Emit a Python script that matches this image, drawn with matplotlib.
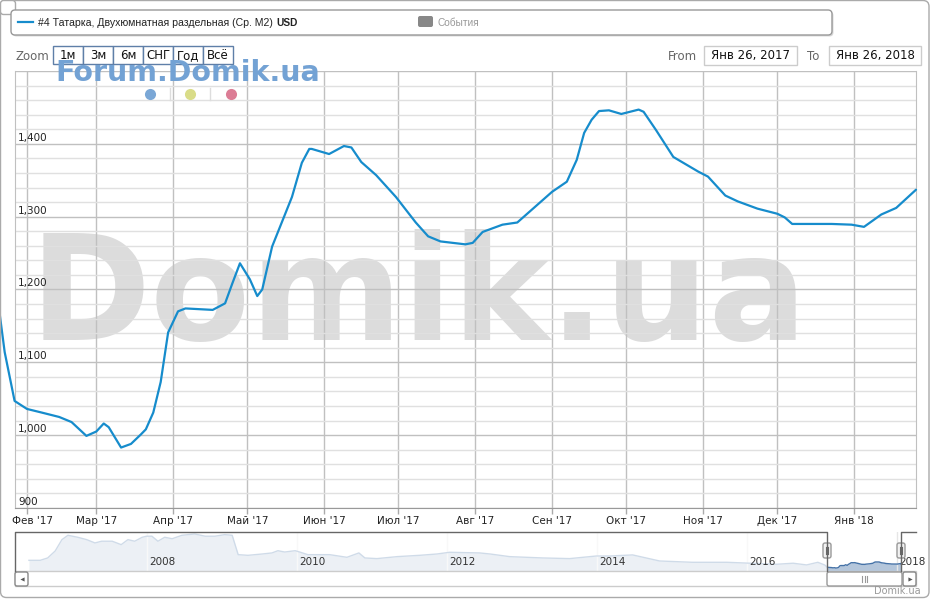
import numpy as np
import matplotlib
matplotlib.use('Agg')
import matplotlib.pyplot as plt
import matplotlib.dates as mdates
import matplotlib.transforms as mtransforms
from matplotlib.patches import FancyBboxPatch, Rectangle

# Main series: average price per m2, USD
dates = ['2017-01-21', '2017-01-23', '2017-01-27', '2017-02-01', '2017-02-07', '2017-02-14',
         '2017-02-19', '2017-02-25', '2017-03-01', '2017-03-04', '2017-03-06', '2017-03-11',
         '2017-03-15', '2017-03-19', '2017-03-21', '2017-03-24', '2017-03-27', '2017-03-30',
         '2017-04-03', '2017-04-06', '2017-04-17', '2017-04-22', '2017-04-25', '2017-04-28',
         '2017-05-02', '2017-05-05', '2017-05-07', '2017-05-11', '2017-05-19', '2017-05-23',
         '2017-05-26', '2017-05-27', '2017-06-03', '2017-06-09', '2017-06-12', '2017-06-16',
         '2017-06-22', '2017-06-30', '2017-07-08', '2017-07-13', '2017-07-18', '2017-07-28',
         '2017-07-31', '2017-08-04', '2017-08-12', '2017-08-18', '2017-08-23', '2017-09-01',
         '2017-09-07', '2017-09-11', '2017-09-14', '2017-09-17', '2017-09-20', '2017-09-24',
         '2017-09-29', '2017-10-06', '2017-10-08', '2017-10-13', '2017-10-20', '2017-10-30',
         '2017-11-03', '2017-11-10', '2017-11-15', '2017-11-23', '2017-12-01', '2017-12-04',
         '2017-12-07', '2017-12-23', '2017-12-31', '2018-01-05', '2018-01-12', '2018-01-18',
         '2018-01-26']
prices = [1166, 1114, 1047, 1036, 1031, 1025, 1018, 999, 1005, 1016, 1011, 983,
          988, 1001, 1008, 1031, 1073, 1141, 1170, 1174, 1172, 1181, 1209, 1236,
          1214, 1191, 1200, 1259, 1327, 1374, 1393, 1393, 1386, 1397, 1395, 1375,
          1357, 1327, 1292, 1273, 1266, 1262, 1264, 1279, 1289, 1292, 1307, 1334,
          1348, 1378, 1415, 1433, 1445, 1446, 1441, 1447, 1444, 1419, 1382, 1362,
          1355, 1329, 1321, 1311, 1304, 1299, 1290, 1290, 1289, 1286, 1303, 1312,
          1337]

# Navigator history before 2017 (decimal years)
nav_years = [2006.43, 2006.58, 2006.68, 2006.78, 2006.87, 2006.95, 2007.08, 2007.20, 2007.31, 2007.40,
             2007.54, 2007.66, 2007.75, 2007.84, 2007.94, 2008.00, 2008.07, 2008.15, 2008.24, 2008.34,
             2008.47, 2008.64, 2008.78, 2008.91, 2009.04, 2009.14, 2009.22, 2009.35, 2009.54, 2009.67,
             2009.75, 2009.84, 2009.98, 2010.04, 2010.15, 2010.44, 2010.67, 2010.83, 2010.91, 2011.07,
             2011.34, 2011.64, 2011.87, 2012.04, 2012.44, 2012.58, 2012.84, 2013.28, 2013.64, 2014.00,
             2014.18, 2014.48, 2014.84, 2015.28, 2015.74, 2016.04, 2016.40, 2016.62, 2016.80, 2016.95,
             2017.04]
nav_prices = [1570, 1570, 1750, 2280, 3140, 3470, 3320, 3140, 2890, 3020,
              3020, 2760, 3140, 3020, 3320, 3400, 3400, 3020, 3320, 3210,
              3470, 3570, 3400, 3400, 3520, 3470, 2000, 1950, 2050, 2130,
              2300, 2200, 2300, 2200, 2000, 2000, 1800, 2130, 1750, 1700,
              1850, 1950, 2050, 2180, 2130, 2050, 1850, 1750, 1700, 1900,
              1900, 1980, 1520, 1420, 1420, 1350, 1270, 1350, 1220, 1420,
              1220]

month_ticks = ['2017-02-01', '2017-03-01', '2017-04-01', '2017-05-01', '2017-06-01', '2017-07-01',
               '2017-08-01', '2017-09-01', '2017-10-01', '2017-11-01', '2017-12-01', '2018-01-01']
month_labels = ["Фев '17", "Мар '17", "Апр '17", "Май '17", "Июн '17", "Июл '17",
                "Авг '17", "Сен '17", "Окт '17", "Ноя '17", "Дек '17", "Янв '18"]
y_labels = [900, 1000, 1100, 1200, 1300, 1400]
year_ticks = [2008, 2010, 2012, 2014, 2016, 2018]
zoom_buttons = ['1м', '3м', '6м', 'СНГ', 'Год', 'Всё']

plt.rcParams['font.family'] = ['DejaVu Sans']
line_color = '#168ccc'
W, H = 931, 600


def fig_rect(x, y, w, h):
    # pixel box (top-left origin) -> figure fraction rect
    return [x / W, 1 - (y + h) / H, w / W, h / H]


fig = plt.figure(figsize=(9.31, 6.0), dpi=100)

# background layer with big watermark
ax_bg = fig.add_axes([0, 0, 1, 1], label='bg', zorder=0)
ax_bg.set_xlim(0, W)
ax_bg.set_ylim(H, 0)
ax_bg.axis('off')
ax_bg.text(30, 340, 'Domik.ua', fontsize=105, fontweight='bold', color='#dcdcdc',
           ha='left', va='baseline')

# main chart
ax = fig.add_axes(fig_rect(15, 71, 901, 437), label='main', zorder=1)
ax.set_facecolor('none')
d = np.array(dates, dtype='datetime64[D]')
ax.plot(d, prices, color=line_color, lw=1.6, clip_on=False, zorder=3,
        solid_joinstyle='round', solid_capstyle='round')
ax.set_xlim(mdates.date2num(np.datetime64('2017-01-27T04:00')),
            mdates.date2num(np.datetime64('2018-01-26')))
ax.set_ylim(900, 1500)
ax.set_yticks(range(900, 1501, 100))
ax.set_yticks(range(900, 1501, 20), minor=True)
ax.yaxis.grid(True, which='major', color='#c0c0c0', lw=1)
ax.yaxis.grid(True, which='minor', color='#e0e0e0', lw=1)
ax.tick_params(axis='y', which='both', length=0, labelleft=False)
ax.set_xticks(np.array(month_ticks, dtype='datetime64[D]'))
ax.set_xticklabels(month_labels, fontsize=7.5, color='#222')
ax.xaxis.grid(True, color='#c0c0c0', lw=1)
ax.tick_params(axis='x', length=4, width=1, color='#aaa', pad=1.5)
# first label kept inside the chart like the original
first = ax.get_xticklabels()[0]
first.set_transform(first.get_transform() +
                    mtransforms.ScaledTranslation(6 / 100, 0, fig.dpi_scale_trans))
for s in ['left', 'right']:
    ax.spines[s].set_color('#c0c0c0')
ax.spines['top'].set_visible(False)
ax.spines['bottom'].set_color('#999')
for v in y_labels:
    ax.annotate('{:,}'.format(v), xy=(0, v), xycoords=('axes fraction', 'data'),
                xytext=(3, 1), textcoords='offset pixels', fontsize=7.5, color='#222',
                ha='left', va='bottom')

# navigator
ax_nav = fig.add_axes(fig_rect(15, 532, 901, 39), label='nav', zorder=2)
all_x = np.concatenate([nav_years,
                        2017 + (d - np.datetime64('2017-01-01')).astype(float) / 365.0])
all_y = np.concatenate([nav_prices, prices])
ax_nav.fill_between(all_x, all_y, 760, color='#4572A7', alpha=0.4, lw=0, zorder=1)
ax_nav.plot(all_x, all_y, color='#4572A7', lw=1, zorder=2)
sel0, sel1 = 2017.068, 2018.068
ax_nav.set_xlim(2006.244, 2018.259)
ax_nav.set_ylim(760, 3720)
ax_nav.axvspan(2006.244, sel0, color='white', alpha=0.75, lw=0, zorder=3)
ax_nav.axvspan(sel1, 2018.259, color='white', alpha=0.75, lw=0, zorder=3)
ax_nav.set_xticks(year_ticks)
ax_nav.xaxis.grid(True, color='#e6e6e6', lw=1)
ax_nav.tick_params(length=0, labelbottom=False, labelleft=False)
for s in ax_nav.spines.values():
    s.set_visible(False)
for yr in year_ticks:
    ax_nav.annotate(str(yr), xy=(yr, 0.22), xycoords=('data', 'axes fraction'),
                    xytext=(3, 0), textcoords='offset pixels', fontsize=7.5, color='#333',
                    ha='left', va='center', annotation_clip=False, zorder=4)

# overlay layer: legend, buttons, frame
ov = fig.add_axes([0, 0, 1, 1], label='ov', zorder=3)
ov.set_xlim(0, W)
ov.set_ylim(H, 0)
ov.axis('off')
ov.set_facecolor('none')

ov.add_patch(FancyBboxPatch((0.5, 0.5), 928.5, 597, boxstyle='round,pad=0,rounding_size=6',
                            ec='#aaa', fc='none', lw=1))
ov.add_patch(FancyBboxPatch((0.5, 0.5), 15, 14, boxstyle='round,pad=0,rounding_size=3',
                            ec='#aaa', fc='white', lw=1))

# legend box with shadow
ov.add_patch(FancyBboxPatch((12.5, 11.5), 821, 25, boxstyle='round,pad=0,rounding_size=4',
                            ec='none', fc='#000', alpha=0.15))
ov.add_patch(FancyBboxPatch((11, 10), 821, 25, boxstyle='round,pad=0,rounding_size=4',
                            ec='#999', fc='white', lw=1))
ov.plot([18, 33], [22, 22], color=line_color, lw=1.6)
ov.text(38, 22.5, '#4 Татарка, Двухюмнатная раздельная (Ср. М2)', fontsize=7.6,
        family=['Liberation Sans', 'DejaVu Sans'], color='#222', ha='left', va='center')
ov.text(276, 22.5, 'USD', fontsize=7.3, fontweight='bold',
        family=['Liberation Sans', 'DejaVu Sans'], color='#222', ha='left', va='center')
ov.add_patch(FancyBboxPatch((418, 16), 15, 11, boxstyle='round,pad=0,rounding_size=2',
                            ec='none', fc='#888'))
ov.text(438, 22.5, 'События', fontsize=7.3, family=['Liberation Sans', 'DejaVu Sans'],
        color='#999', ha='left', va='center')

# zoom buttons
ov.text(16, 56, 'Zoom', fontsize=8.5, color='#666', ha='left', va='center')
for i, lbl in enumerate(zoom_buttons):
    ov.add_patch(Rectangle((53 + 30 * i, 46), 30, 18, fc='white', ec='#5f7fa8', lw=1))
    ov.text(68 + 30 * i, 55.5, lbl, fontsize=8.5, color='#111', ha='center', va='center')

# date range inputs
ov.text(668, 56, 'From', fontsize=8.5, color='#666', ha='left', va='center')
ov.add_patch(Rectangle((704, 46), 93, 19, fc='white', ec='#ccc', lw=1))
ov.text(750.5, 56, 'Янв 26, 2017', fontsize=8.5, color='#111', ha='center', va='center')
ov.text(807, 56, 'To', fontsize=8.5, color='#666', ha='left', va='center')
ov.add_patch(Rectangle((829, 46), 92, 19, fc='white', ec='#ccc', lw=1))
ov.text(875, 56, 'Янв 26, 2018', fontsize=8.5, color='#111', ha='center', va='center')

# forum watermark and dots
ov.text(55, 81, 'Forum.Domik.ua', fontsize=20.5, fontweight='bold', color='#73a2d4',
        ha='left', va='baseline')
for x, c in zip([150, 190, 231], ['#7aa7d6', '#d9dc88', '#dc7d95']):
    ov.plot(x, 94, 'o', ms=8, color=c, mec='none')
for x in [170, 210]:
    ov.plot([x, x], [88, 100], color='#ddd', lw=1)

# navigator outline and handles
ov.plot([15, 15, 827, 827], [571, 532, 532, 571], color='#666', lw=1)
ov.plot([901, 901, 916], [571, 532, 532], color='#666', lw=1)
for hx in [827, 901]:
    ov.add_patch(FancyBboxPatch((hx - 4, 543), 8, 15, boxstyle='round,pad=0,rounding_size=2',
                                fc='#f2f2f2', ec='#999', lw=1))
    ov.plot([hx - 1, hx - 1], [547, 554], color='#666', lw=0.8)
    ov.plot([hx + 1, hx + 1], [547, 554], color='#666', lw=0.8)

# scrollbar
ov.add_patch(Rectangle((15, 571), 901, 15, fc='white', ec='#ccc', lw=1))
ov.add_patch(FancyBboxPatch((15, 572), 13, 14, boxstyle='round,pad=0,rounding_size=2',
                            fc='white', ec='#888', lw=1))
ov.add_patch(FancyBboxPatch((903, 572), 13, 14, boxstyle='round,pad=0,rounding_size=2',
                            fc='white', ec='#888', lw=1))
ov.add_patch(FancyBboxPatch((827, 572), 75, 14, boxstyle='round,pad=0,rounding_size=2',
                            fc='white', ec='#999', lw=1))
ov.plot(21.5, 579, marker='<', ms=3, color='#555', mec='none')
ov.plot(909.5, 579, marker='>', ms=3, color='#555', mec='none')
for gx in [862, 864.5, 867]:
    ov.plot([gx, gx], [576, 582], color='#999', lw=0.8)

ov.text(921, 591, 'Domik.ua', fontsize=7, color='#999', ha='right', va='center')

fig.savefig('out.png', dpi=100)
